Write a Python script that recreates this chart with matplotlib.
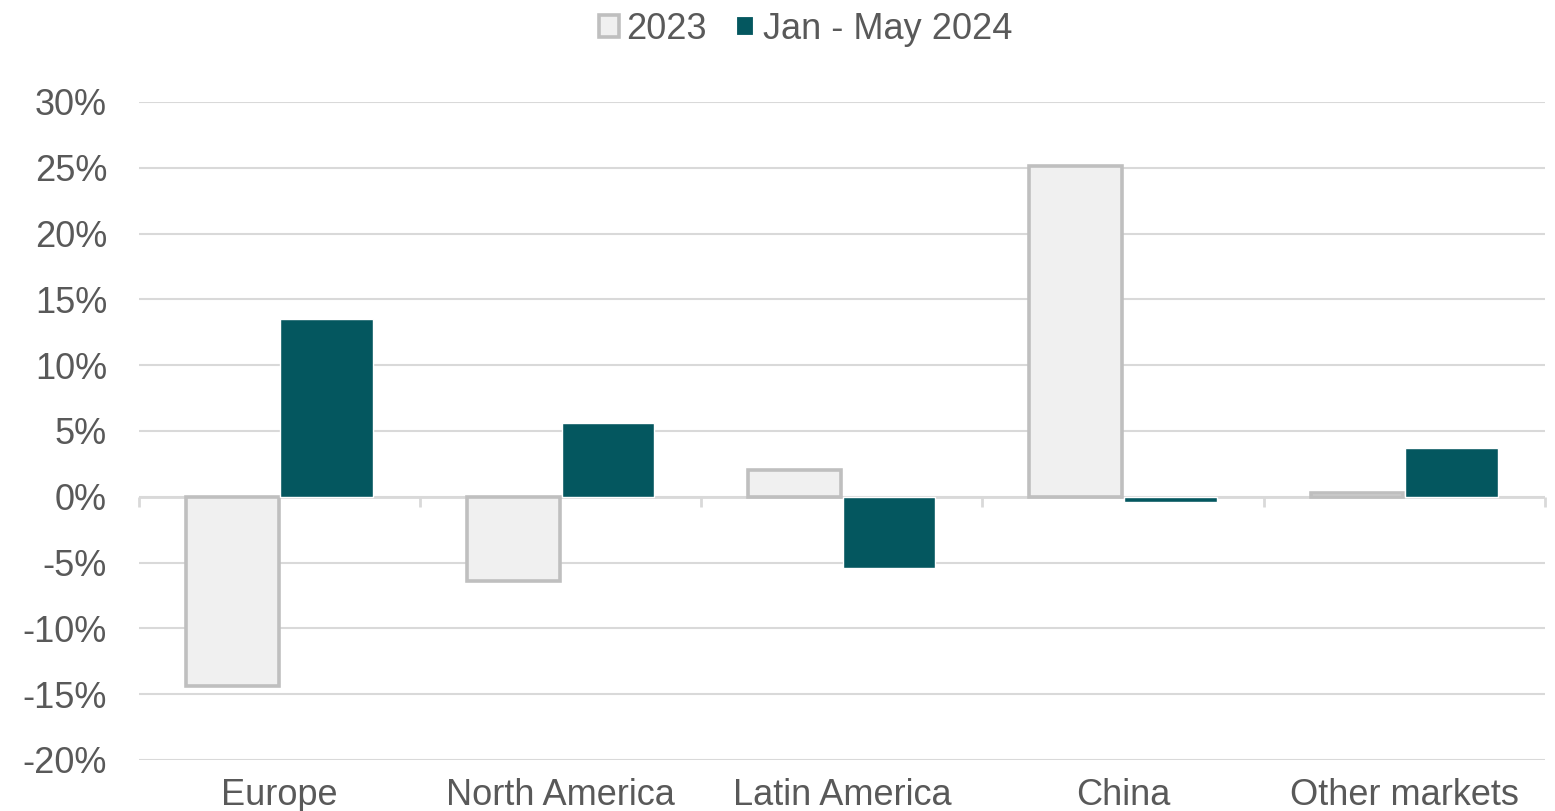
import matplotlib
matplotlib.use("Agg")
import matplotlib.pyplot as plt
import numpy as np
from matplotlib.patches import Patch
from matplotlib.ticker import FuncFormatter
import matplotlib.transforms as mtransforms

categories = ["Europe", "North America", "Latin America", "China", "Other markets"]
values_2023 = [-14.4, -6.4, 2.0, 25.1, 0.3]
values_2024 = [13.5, 5.6, -5.4, -0.4, 3.7]
series_names = ["2023", "Jan - May 2024"]
y_ticks = [-20, -15, -10, -5, 0, 5, 10, 15, 20, 25, 30]

plt.rcParams['font.family'] = ['Liberation Sans', 'DejaVu Sans']
text_color = "#595959"
grid_color = "#D9D9D9"
teal = "#04575F"

fig = plt.figure(figsize=(15.55, 8.11), dpi=100)
ax = fig.add_axes([0.0894, 0.0629, 0.904, 0.8114])

x = np.arange(len(categories))
w = 0.33
ax.bar(x - w / 2 - 0.003, values_2023, width=w, color="#F0F0F0", edgecolor="#BFBFBF",
       linewidth=2.6, zorder=3)
ax.bar(x + w / 2 + 0.003, values_2024, width=w, color=teal, edgecolor="white",
       linewidth=1.0, zorder=3)

ax.set_xlim(-0.5, len(categories) - 0.5)
ax.set_ylim(y_ticks[0], y_ticks[-1])
ax.set_yticks(y_ticks)
ax.yaxis.set_major_formatter(FuncFormatter(lambda v, p: f"{v:.0f}%"))
ax.grid(axis="y", color=grid_color, linewidth=1.5, zorder=0)
ax.set_axisbelow(True)

for s in ax.spines.values():
    s.set_visible(False)

ax.axhline(0, color=grid_color, linewidth=2, zorder=2)
trans = mtransforms.blended_transform_factory(ax.transData, ax.transAxes)
boundaries = np.arange(len(categories) + 1) - 0.5
zero_frac = (0 - y_ticks[0]) / (y_ticks[-1] - y_ticks[0])
ax.vlines(boundaries, zero_frac - 0.016, zero_frac, transform=trans,
          color=grid_color, linewidth=2, zorder=2, clip_on=False)

ax.set_xticks(x)
ax.set_xticklabels(categories)
ax.tick_params(axis="x", length=0, pad=13, labelsize=26, labelcolor=text_color)
ax.tick_params(axis="y", length=0, pad=23, labelsize=26, labelcolor=text_color)

handles = [Patch(facecolor="#F0F0F0", edgecolor="#BFBFBF", linewidth=2.6),
           Patch(facecolor=teal, edgecolor="white", linewidth=3.0)]
leg = fig.legend(handles, series_names, loc="center", bbox_to_anchor=(0.518, 0.964),
                 ncol=2, frameon=False, fontsize=26, handlelength=0.55, handleheight=0.55,
                 handletextpad=0.2, columnspacing=0.8, labelcolor=text_color)

fig.savefig("out.png", dpi=100)
